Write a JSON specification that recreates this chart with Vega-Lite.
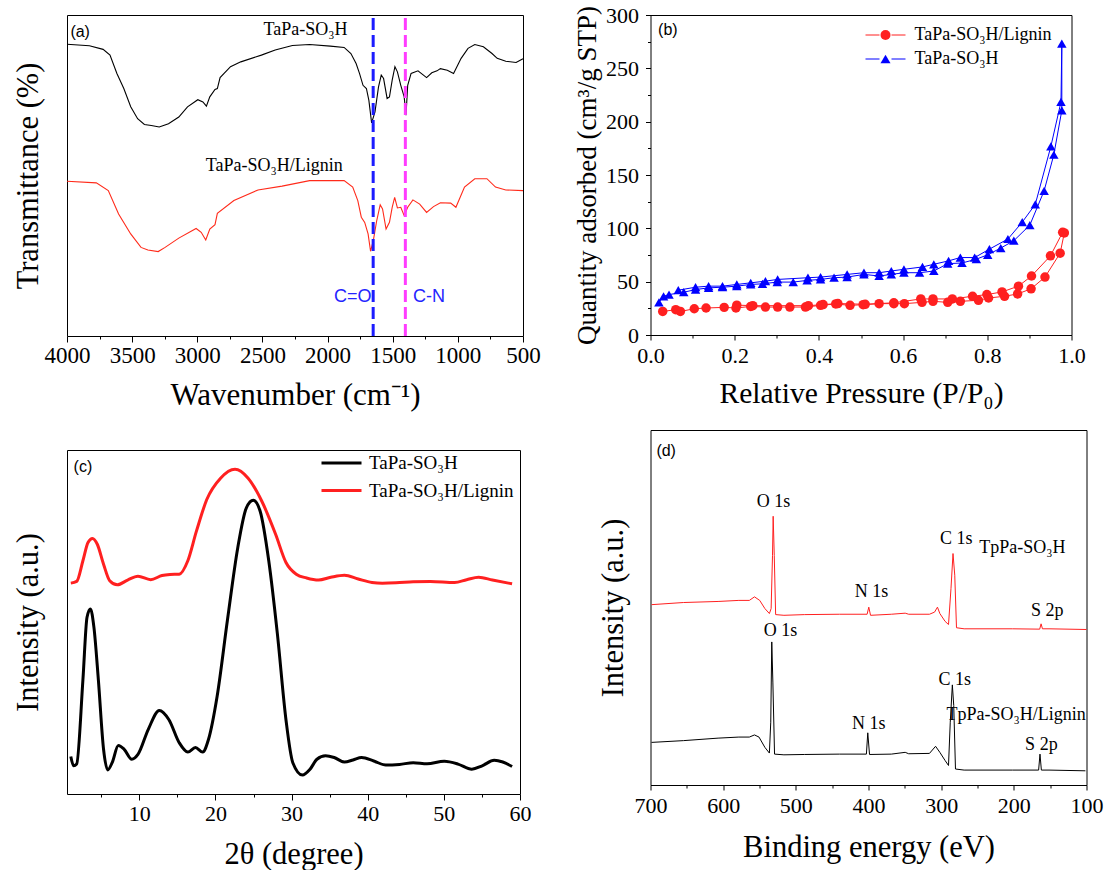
{
"$schema": "https://vega.github.io/schema/vega-lite/v6.json",
"background": "white",
"padding": {"left": 12, "top": 3, "right": 0, "bottom": 0},
"bounds": "flush",
"spacing": 583.5,
"resolve": {"scale": {"color": "independent", "shape": "independent", "stroke": "independent"}},
"datasets": {
"ir": [
{"s":"TaPa-SO₃H","x":4000,"y":90.9},{"s":"TaPa-SO₃H","x":3828,"y":90.4},{"s":"TaPa-SO₃H","x":3723,"y":89.3},{"s":"TaPa-SO₃H","x":3670,"y":87.5},{"s":"TaPa-SO₃H","x":3617,"y":81.8},{"s":"TaPa-SO₃H","x":3564,"y":77.1},{"s":"TaPa-SO₃H","x":3511,"y":71.4},{"s":"TaPa-SO₃H","x":3458,"y":67.7},{"s":"TaPa-SO₃H","x":3406,"y":65.9},{"s":"TaPa-SO₃H","x":3353,"y":65.6},{"s":"TaPa-SO₃H","x":3292,"y":65.1},{"s":"TaPa-SO₃H","x":3221,"y":66.1},{"s":"TaPa-SO₃H","x":3142,"y":68.2},{"s":"TaPa-SO₃H","x":3075,"y":71.4},{"s":"TaPa-SO₃H","x":2996,"y":73.6},{"s":"TaPa-SO₃H","x":2957,"y":72.9},{"s":"TaPa-SO₃H","x":2930,"y":71.6},{"s":"TaPa-SO₃H","x":2904,"y":74.5},{"s":"TaPa-SO₃H","x":2864,"y":76.8},{"s":"TaPa-SO₃H","x":2846,"y":77.1},{"s":"TaPa-SO₃H","x":2825,"y":80.5},{"s":"TaPa-SO₃H","x":2745,"y":83.9},{"s":"TaPa-SO₃H","x":2666,"y":85.4},{"s":"TaPa-SO₃H","x":2508,"y":87.5},{"s":"TaPa-SO₃H","x":2402,"y":89.1},{"s":"TaPa-SO₃H","x":2270,"y":90.5},{"s":"TaPa-SO₃H","x":2138,"y":90.8},{"s":"TaPa-SO₃H","x":1979,"y":90.3},{"s":"TaPa-SO₃H","x":1873,"y":89.9},{"s":"TaPa-SO₃H","x":1821,"y":88.0},{"s":"TaPa-SO₃H","x":1781,"y":84.9},{"s":"TaPa-SO₃H","x":1755,"y":81.8},{"s":"TaPa-SO₃H","x":1728,"y":78.1},{"s":"TaPa-SO₃H","x":1702,"y":77.1},{"s":"TaPa-SO₃H","x":1683,"y":73.4},{"s":"TaPa-SO₃H","x":1662,"y":66.4},{"s":"TaPa-SO₃H","x":1636,"y":69.8},{"s":"TaPa-SO₃H","x":1609,"y":77.6},{"s":"TaPa-SO₃H","x":1588,"y":81.3},{"s":"TaPa-SO₃H","x":1570,"y":80.2},{"s":"TaPa-SO₃H","x":1543,"y":74.0},{"s":"TaPa-SO₃H","x":1525,"y":74.5},{"s":"TaPa-SO₃H","x":1504,"y":79.7},{"s":"TaPa-SO₃H","x":1483,"y":83.9},{"s":"TaPa-SO₃H","x":1464,"y":82.3},{"s":"TaPa-SO₃H","x":1438,"y":78.1},{"s":"TaPa-SO₃H","x":1412,"y":74.5},{"s":"TaPa-SO₃H","x":1398,"y":68.8},{"s":"TaPa-SO₃H","x":1385,"y":78.1},{"s":"TaPa-SO₃H","x":1359,"y":81.8},{"s":"TaPa-SO₃H","x":1306,"y":82.6},{"s":"TaPa-SO₃H","x":1240,"y":80.5},{"s":"TaPa-SO₃H","x":1200,"y":82.0},{"s":"TaPa-SO₃H","x":1160,"y":82.6},{"s":"TaPa-SO₃H","x":1134,"y":83.3},{"s":"TaPa-SO₃H","x":1081,"y":82.8},{"s":"TaPa-SO₃H","x":1033,"y":81.8},{"s":"TaPa-SO₃H","x":975,"y":86.5},{"s":"TaPa-SO₃H","x":922,"y":89.6},{"s":"TaPa-SO₃H","x":870,"y":90.8},{"s":"TaPa-SO₃H","x":804,"y":90.1},{"s":"TaPa-SO₃H","x":738,"y":88.0},{"s":"TaPa-SO₃H","x":698,"y":86.5},{"s":"TaPa-SO₃H","x":632,"y":85.6},{"s":"TaPa-SO₃H","x":553,"y":85.2},{"s":"TaPa-SO₃H","x":500,"y":86.4},
{"s":"TaPa-SO₃H/Lignin","x":4000,"y":48.2},{"s":"TaPa-SO₃H/Lignin","x":3775,"y":47.7},{"s":"TaPa-SO₃H/Lignin","x":3683,"y":45.3},{"s":"TaPa-SO₃H/Lignin","x":3604,"y":38.0},{"s":"TaPa-SO₃H/Lignin","x":3511,"y":31.8},{"s":"TaPa-SO₃H/Lignin","x":3432,"y":27.6},{"s":"TaPa-SO₃H/Lignin","x":3379,"y":26.8},{"s":"TaPa-SO₃H/Lignin","x":3300,"y":26.3},{"s":"TaPa-SO₃H/Lignin","x":3247,"y":27.6},{"s":"TaPa-SO₃H/Lignin","x":3142,"y":30.5},{"s":"TaPa-SO₃H/Lignin","x":3009,"y":33.5},{"s":"TaPa-SO₃H/Lignin","x":2970,"y":32.3},{"s":"TaPa-SO₃H/Lignin","x":2935,"y":29.9},{"s":"TaPa-SO₃H/Lignin","x":2904,"y":33.3},{"s":"TaPa-SO₃H/Lignin","x":2864,"y":34.7},{"s":"TaPa-SO₃H/Lignin","x":2846,"y":38.2},{"s":"TaPa-SO₃H/Lignin","x":2719,"y":42.2},{"s":"TaPa-SO₃H/Lignin","x":2534,"y":45.5},{"s":"TaPa-SO₃H/Lignin","x":2349,"y":46.7},{"s":"TaPa-SO₃H/Lignin","x":2138,"y":48.4},{"s":"TaPa-SO₃H/Lignin","x":1873,"y":48.4},{"s":"TaPa-SO₃H/Lignin","x":1807,"y":46.4},{"s":"TaPa-SO₃H/Lignin","x":1768,"y":42.2},{"s":"TaPa-SO₃H/Lignin","x":1741,"y":37.0},{"s":"TaPa-SO₃H/Lignin","x":1715,"y":35.4},{"s":"TaPa-SO₃H/Lignin","x":1689,"y":31.8},{"s":"TaPa-SO₃H/Lignin","x":1670,"y":26.4},{"s":"TaPa-SO₃H/Lignin","x":1649,"y":29.7},{"s":"TaPa-SO₃H/Lignin","x":1623,"y":35.9},{"s":"TaPa-SO₃H/Lignin","x":1596,"y":40.9},{"s":"TaPa-SO₃H/Lignin","x":1578,"y":39.6},{"s":"TaPa-SO₃H/Lignin","x":1551,"y":33.3},{"s":"TaPa-SO₃H/Lignin","x":1525,"y":35.4},{"s":"TaPa-SO₃H/Lignin","x":1504,"y":40.1},{"s":"TaPa-SO₃H/Lignin","x":1485,"y":43.2},{"s":"TaPa-SO₃H/Lignin","x":1464,"y":39.9},{"s":"TaPa-SO₃H/Lignin","x":1438,"y":40.1},{"s":"TaPa-SO₃H/Lignin","x":1412,"y":37.5},{"s":"TaPa-SO₃H/Lignin","x":1385,"y":40.1},{"s":"TaPa-SO₃H/Lignin","x":1345,"y":42.4},{"s":"TaPa-SO₃H/Lignin","x":1293,"y":41.1},{"s":"TaPa-SO₃H/Lignin","x":1240,"y":38.5},{"s":"TaPa-SO₃H/Lignin","x":1187,"y":40.3},{"s":"TaPa-SO₃H/Lignin","x":1134,"y":41.5},{"s":"TaPa-SO₃H/Lignin","x":1055,"y":41.4},{"s":"TaPa-SO₃H/Lignin","x":1015,"y":40.1},{"s":"TaPa-SO₃H/Lignin","x":949,"y":46.4},{"s":"TaPa-SO₃H/Lignin","x":870,"y":49.0},{"s":"TaPa-SO₃H/Lignin","x":777,"y":49.0},{"s":"TaPa-SO₃H/Lignin","x":711,"y":46.4},{"s":"TaPa-SO₃H/Lignin","x":632,"y":45.5},{"s":"TaPa-SO₃H/Lignin","x":500,"y":45.3}
],
"bet": [
{"s":"TaPa-SO₃H/Lignin","i":1,"x":0.029,"y":22.1},{"s":"TaPa-SO₃H/Lignin","i":2,"x":0.060,"y":23.7},{"s":"TaPa-SO₃H/Lignin","i":3,"x":0.071,"y":22.1},{"s":"TaPa-SO₃H/Lignin","i":4,"x":0.104,"y":24.6},{"s":"TaPa-SO₃H/Lignin","i":5,"x":0.132,"y":25.3},{"s":"TaPa-SO₃H/Lignin","i":6,"x":0.175,"y":25.9},{"s":"TaPa-SO₃H/Lignin","i":7,"x":0.203,"y":25.3},{"s":"TaPa-SO₃H/Lignin","i":8,"x":0.238,"y":26.8},{"s":"TaPa-SO₃H/Lignin","i":9,"x":0.273,"y":26.2},{"s":"TaPa-SO₃H/Lignin","i":10,"x":0.302,"y":26.2},{"s":"TaPa-SO₃H/Lignin","i":11,"x":0.331,"y":26.2},{"s":"TaPa-SO₃H/Lignin","i":12,"x":0.368,"y":26.2},{"s":"TaPa-SO₃H/Lignin","i":13,"x":0.404,"y":27.8},{"s":"TaPa-SO₃H/Lignin","i":14,"x":0.440,"y":29.1},{"s":"TaPa-SO₃H/Lignin","i":15,"x":0.474,"y":27.8},{"s":"TaPa-SO₃H/Lignin","i":16,"x":0.505,"y":28.4},{"s":"TaPa-SO₃H/Lignin","i":17,"x":0.543,"y":29.4},{"s":"TaPa-SO₃H/Lignin","i":18,"x":0.578,"y":29.4},{"s":"TaPa-SO₃H/Lignin","i":19,"x":0.603,"y":29.4},{"s":"TaPa-SO₃H/Lignin","i":20,"x":0.645,"y":30.6},{"s":"TaPa-SO₃H/Lignin","i":21,"x":0.671,"y":31.6},{"s":"TaPa-SO₃H/Lignin","i":22,"x":0.706,"y":30.6},{"s":"TaPa-SO₃H/Lignin","i":23,"x":0.736,"y":31.6},{"s":"TaPa-SO₃H/Lignin","i":24,"x":0.779,"y":32.5},{"s":"TaPa-SO₃H/Lignin","i":25,"x":0.803,"y":34.7},{"s":"TaPa-SO₃H/Lignin","i":26,"x":0.841,"y":36.3},{"s":"TaPa-SO₃H/Lignin","i":27,"x":0.872,"y":38.5},{"s":"TaPa-SO₃H/Lignin","i":28,"x":0.904,"y":43.3},{"s":"TaPa-SO₃H/Lignin","i":29,"x":0.937,"y":54.3},{"s":"TaPa-SO₃H/Lignin","i":30,"x":0.973,"y":76.7},{"s":"TaPa-SO₃H/Lignin","i":31,"x":0.983,"y":95.7},{"s":"TaPa-SO₃H/Lignin","i":32,"x":0.979,"y":96.3},{"s":"TaPa-SO₃H/Lignin","i":33,"x":0.950,"y":74.2},{"s":"TaPa-SO₃H/Lignin","i":34,"x":0.905,"y":55.3},{"s":"TaPa-SO₃H/Lignin","i":35,"x":0.874,"y":45.8},{"s":"TaPa-SO₃H/Lignin","i":36,"x":0.835,"y":40.4},{"s":"TaPa-SO₃H/Lignin","i":37,"x":0.799,"y":37.9},{"s":"TaPa-SO₃H/Lignin","i":38,"x":0.765,"y":36.3},{"s":"TaPa-SO₃H/Lignin","i":39,"x":0.717,"y":33.8},{"s":"TaPa-SO₃H/Lignin","i":40,"x":0.671,"y":33.8},{"s":"TaPa-SO₃H/Lignin","i":41,"x":0.642,"y":33.8},{"s":"TaPa-SO₃H/Lignin","i":42,"x":0.578,"y":30.2},{"s":"TaPa-SO₃H/Lignin","i":43,"x":0.510,"y":28.8},{"s":"TaPa-SO₃H/Lignin","i":44,"x":0.445,"y":29.5},{"s":"TaPa-SO₃H/Lignin","i":45,"x":0.410,"y":28.5},{"s":"TaPa-SO₃H/Lignin","i":46,"x":0.375,"y":27.5},{"s":"TaPa-SO₃H/Lignin","i":47,"x":0.243,"y":27.5},{"s":"TaPa-SO₃H/Lignin","i":48,"x":0.205,"y":28.0},
{"s":"TaPa-SO₃H","i":1,"x":0.020,"y":30.6},{"s":"TaPa-SO₃H","i":2,"x":0.031,"y":36.3},{"s":"TaPa-SO₃H","i":3,"x":0.044,"y":37.9},{"s":"TaPa-SO₃H","i":4,"x":0.079,"y":40.1},{"s":"TaPa-SO₃H","i":5,"x":0.107,"y":42.6},{"s":"TaPa-SO₃H","i":6,"x":0.138,"y":44.2},{"s":"TaPa-SO₃H","i":7,"x":0.171,"y":44.8},{"s":"TaPa-SO₃H","i":8,"x":0.205,"y":45.8},{"s":"TaPa-SO₃H","i":9,"x":0.238,"y":47.4},{"s":"TaPa-SO₃H","i":10,"x":0.266,"y":48.0},{"s":"TaPa-SO₃H","i":11,"x":0.301,"y":49.6},{"s":"TaPa-SO₃H","i":12,"x":0.339,"y":49.6},{"s":"TaPa-SO₃H","i":13,"x":0.372,"y":51.2},{"s":"TaPa-SO₃H","i":14,"x":0.404,"y":52.1},{"s":"TaPa-SO₃H","i":15,"x":0.436,"y":53.7},{"s":"TaPa-SO₃H","i":16,"x":0.467,"y":54.3},{"s":"TaPa-SO₃H","i":17,"x":0.507,"y":56.8},{"s":"TaPa-SO₃H","i":18,"x":0.543,"y":55.3},{"s":"TaPa-SO₃H","i":19,"x":0.572,"y":56.8},{"s":"TaPa-SO₃H","i":20,"x":0.602,"y":58.4},{"s":"TaPa-SO₃H","i":21,"x":0.639,"y":58.4},{"s":"TaPa-SO₃H","i":22,"x":0.673,"y":60.0},{"s":"TaPa-SO₃H","i":23,"x":0.706,"y":66.9},{"s":"TaPa-SO₃H","i":24,"x":0.740,"y":67.5},{"s":"TaPa-SO₃H","i":25,"x":0.774,"y":71.1},{"s":"TaPa-SO₃H","i":26,"x":0.801,"y":75.2},{"s":"TaPa-SO₃H","i":27,"x":0.832,"y":81.5},{"s":"TaPa-SO₃H","i":28,"x":0.863,"y":88.4},{"s":"TaPa-SO₃H","i":29,"x":0.901,"y":103.0},{"s":"TaPa-SO₃H","i":30,"x":0.935,"y":135.2},{"s":"TaPa-SO₃H","i":31,"x":0.958,"y":169.0},{"s":"TaPa-SO₃H","i":32,"x":0.977,"y":210.6},{"s":"TaPa-SO₃H","i":33,"x":0.977,"y":273.2},{"s":"TaPa-SO₃H","i":34,"x":0.975,"y":218.5},{"s":"TaPa-SO₃H","i":35,"x":0.951,"y":176.8},{"s":"TaPa-SO₃H","i":36,"x":0.914,"y":122.5},{"s":"TaPa-SO₃H","i":37,"x":0.883,"y":105.8},{"s":"TaPa-SO₃H","i":38,"x":0.849,"y":90.0},{"s":"TaPa-SO₃H","i":39,"x":0.805,"y":80.5},{"s":"TaPa-SO₃H","i":40,"x":0.770,"y":72.6},{"s":"TaPa-SO₃H","i":41,"x":0.736,"y":72.6},{"s":"TaPa-SO₃H","i":42,"x":0.708,"y":69.5},{"s":"TaPa-SO₃H","i":43,"x":0.673,"y":66.3},{"s":"TaPa-SO₃H","i":44,"x":0.646,"y":63.8},{"s":"TaPa-SO₃H","i":45,"x":0.602,"y":61.6},{"s":"TaPa-SO₃H","i":46,"x":0.572,"y":60.0},{"s":"TaPa-SO₃H","i":47,"x":0.543,"y":58.4},{"s":"TaPa-SO₃H","i":48,"x":0.507,"y":58.4},{"s":"TaPa-SO₃H","i":49,"x":0.467,"y":56.8},{"s":"TaPa-SO₃H","i":50,"x":0.404,"y":54.3},{"s":"TaPa-SO₃H","i":51,"x":0.374,"y":53.7},{"s":"TaPa-SO₃H","i":52,"x":0.302,"y":52.1},{"s":"TaPa-SO₃H","i":53,"x":0.273,"y":50.5},{"s":"TaPa-SO₃H","i":54,"x":0.238,"y":48.9},{"s":"TaPa-SO₃H","i":55,"x":0.205,"y":47.4},{"s":"TaPa-SO₃H","i":56,"x":0.171,"y":45.8},{"s":"TaPa-SO₃H","i":57,"x":0.138,"y":45.8},{"s":"TaPa-SO₃H","i":58,"x":0.107,"y":44.8},{"s":"TaPa-SO₃H","i":59,"x":0.066,"y":42.0}
],
"xrd": [
{"s":"TaPa-SO₃H","x":1.0,"y":10.9},{"s":"TaPa-SO₃H","x":1.37,"y":8.2},{"s":"TaPa-SO₃H","x":1.77,"y":8.7},{"s":"TaPa-SO₃H","x":2.59,"y":33.2},{"s":"TaPa-SO₃H","x":3.13,"y":51.4},{"s":"TaPa-SO₃H","x":3.58,"y":53.8},{"s":"TaPa-SO₃H","x":4.03,"y":48.6},{"s":"TaPa-SO₃H","x":4.62,"y":33.2},{"s":"TaPa-SO₃H","x":5.30,"y":13.0},{"s":"TaPa-SO₃H","x":5.84,"y":7.0},{"s":"TaPa-SO₃H","x":6.43,"y":9.1},{"s":"TaPa-SO₃H","x":7.24,"y":14.1},{"s":"TaPa-SO₃H","x":8.01,"y":13.0},{"s":"TaPa-SO₃H","x":9.01,"y":10.1},{"s":"TaPa-SO₃H","x":9.82,"y":11.5},{"s":"TaPa-SO₃H","x":11.18,"y":18.8},{"s":"TaPa-SO₃H","x":12.62,"y":24.3},{"s":"TaPa-SO₃H","x":13.89,"y":21.6},{"s":"TaPa-SO₃H","x":15.24,"y":14.9},{"s":"TaPa-SO₃H","x":16.37,"y":12.2},{"s":"TaPa-SO₃H","x":17.37,"y":13.5},{"s":"TaPa-SO₃H","x":18.32,"y":12.2},{"s":"TaPa-SO₃H","x":19.09,"y":15.9},{"s":"TaPa-SO₃H","x":20.22,"y":28.4},{"s":"TaPa-SO₃H","x":21.57,"y":50.5},{"s":"TaPa-SO₃H","x":22.93,"y":71.6},{"s":"TaPa-SO₃H","x":24.06,"y":83.2},{"s":"TaPa-SO₃H","x":24.96,"y":85.4},{"s":"TaPa-SO₃H","x":25.87,"y":82.2},{"s":"TaPa-SO₃H","x":27.0,"y":67.8},{"s":"TaPa-SO₃H","x":28.13,"y":46.6},{"s":"TaPa-SO₃H","x":29.26,"y":21.6},{"s":"TaPa-SO₃H","x":30.16,"y":9.1},{"s":"TaPa-SO₃H","x":31.43,"y":5.5},{"s":"TaPa-SO₃H","x":32.42,"y":7.2},{"s":"TaPa-SO₃H","x":33.33,"y":10.1},{"s":"TaPa-SO₃H","x":34.46,"y":11.1},{"s":"TaPa-SO₃H","x":35.59,"y":10.6},{"s":"TaPa-SO₃H","x":36.94,"y":9.3},{"s":"TaPa-SO₃H","x":38.07,"y":9.9},{"s":"TaPa-SO₃H","x":39.2,"y":10.6},{"s":"TaPa-SO₃H","x":40.79,"y":9.6},{"s":"TaPa-SO₃H","x":42.37,"y":8.4},{"s":"TaPa-SO₃H","x":44.18,"y":8.6},{"s":"TaPa-SO₃H","x":45.98,"y":9.1},{"s":"TaPa-SO₃H","x":47.79,"y":8.8},{"s":"TaPa-SO₃H","x":50.05,"y":9.5},{"s":"TaPa-SO₃H","x":51.86,"y":8.7},{"s":"TaPa-SO₃H","x":53.67,"y":7.2},{"s":"TaPa-SO₃H","x":55.03,"y":8.2},{"s":"TaPa-SO₃H","x":56.61,"y":9.8},{"s":"TaPa-SO₃H","x":57.74,"y":9.3},{"s":"TaPa-SO₃H","x":58.96,"y":8.0},
{"s":"TaPa-SO₃H/Lignin","x":1.0,"y":61.3},{"s":"TaPa-SO₃H/Lignin","x":1.77,"y":61.8},{"s":"TaPa-SO₃H/Lignin","x":2.59,"y":67.8},{"s":"TaPa-SO₃H/Lignin","x":3.26,"y":73.1},{"s":"TaPa-SO₃H/Lignin","x":3.85,"y":74.3},{"s":"TaPa-SO₃H/Lignin","x":4.48,"y":72.6},{"s":"TaPa-SO₃H/Lignin","x":5.30,"y":66.8},{"s":"TaPa-SO₃H/Lignin","x":6.11,"y":62.0},{"s":"TaPa-SO₃H/Lignin","x":7.11,"y":60.8},{"s":"TaPa-SO₃H/Lignin","x":8.46,"y":62.2},{"s":"TaPa-SO₃H/Lignin","x":9.82,"y":63.3},{"s":"TaPa-SO₃H/Lignin","x":11.49,"y":62.3},{"s":"TaPa-SO₃H/Lignin","x":12.98,"y":63.5},{"s":"TaPa-SO₃H/Lignin","x":14.02,"y":63.8},{"s":"TaPa-SO₃H/Lignin","x":15.24,"y":63.9},{"s":"TaPa-SO₃H/Lignin","x":16.37,"y":67.8},{"s":"TaPa-SO₃H/Lignin","x":17.5,"y":76.4},{"s":"TaPa-SO₃H/Lignin","x":18.86,"y":85.6},{"s":"TaPa-SO₃H/Lignin","x":20.67,"y":91.8},{"s":"TaPa-SO₃H/Lignin","x":22.57,"y":94.4},{"s":"TaPa-SO₃H/Lignin","x":24.29,"y":91.8},{"s":"TaPa-SO₃H/Lignin","x":26.09,"y":85.1},{"s":"TaPa-SO₃H/Lignin","x":27.9,"y":75.5},{"s":"TaPa-SO₃H/Lignin","x":29.26,"y":67.3},{"s":"TaPa-SO₃H/Lignin","x":30.61,"y":63.9},{"s":"TaPa-SO₃H/Lignin","x":31.97,"y":62.8},{"s":"TaPa-SO₃H/Lignin","x":33.55,"y":62.2},{"s":"TaPa-SO₃H/Lignin","x":35.14,"y":63.0},{"s":"TaPa-SO₃H/Lignin","x":36.94,"y":63.6},{"s":"TaPa-SO₃H/Lignin","x":38.75,"y":62.5},{"s":"TaPa-SO₃H/Lignin","x":40.56,"y":61.5},{"s":"TaPa-SO₃H/Lignin","x":41.92,"y":61.3},{"s":"TaPa-SO₃H/Lignin","x":43.72,"y":61.4},{"s":"TaPa-SO₃H/Lignin","x":45.98,"y":61.7},{"s":"TaPa-SO₃H/Lignin","x":48.24,"y":61.8},{"s":"TaPa-SO₃H/Lignin","x":51.41,"y":61.5},{"s":"TaPa-SO₃H/Lignin","x":52.99,"y":62.3},{"s":"TaPa-SO₃H/Lignin","x":54.57,"y":63.0},{"s":"TaPa-SO₃H/Lignin","x":56.38,"y":62.2},{"s":"TaPa-SO₃H/Lignin","x":58.96,"y":61.1}
],
"xps": [
{"s":"TpPa-SO₃H","x":698.6,"y":50.8},{"s":"TpPa-SO₃H","x":654.7,"y":51.4},{"s":"TpPa-SO₃H","x":607,"y":51.7},{"s":"TpPa-SO₃H","x":578.4,"y":52.0},{"s":"TpPa-SO₃H","x":564,"y":52.0},{"s":"TpPa-SO₃H","x":556.9,"y":53.0},{"s":"TpPa-SO₃H","x":549.7,"y":52.0},{"s":"TpPa-SO₃H","x":542.6,"y":49.7},{"s":"TpPa-SO₃H","x":536.4,"y":48.3},{"s":"TpPa-SO₃H","x":534,"y":49.7},{"s":"TpPa-SO₃H","x":532.1,"y":64.7},{"s":"TpPa-SO₃H","x":531.2,"y":75.7},{"s":"TpPa-SO₃H","x":529.7,"y":64.7},{"s":"TpPa-SO₃H","x":527.8,"y":48.0},{"s":"TpPa-SO₃H","x":516.4,"y":47.8},{"s":"TpPa-SO₃H","x":487.8,"y":48.0},{"s":"TpPa-SO₃H","x":440.1,"y":48.1},{"s":"TpPa-SO₃H","x":401.9,"y":48.1},{"s":"TpPa-SO₃H","x":399.6,"y":50.1},{"s":"TpPa-SO₃H","x":397.2,"y":47.8},{"s":"TpPa-SO₃H","x":368.6,"y":48.1},{"s":"TpPa-SO₃H","x":349.5,"y":48.4},{"s":"TpPa-SO₃H","x":344.7,"y":48.1},{"s":"TpPa-SO₃H","x":316.1,"y":48.1},{"s":"TpPa-SO₃H","x":309.1,"y":48.7},{"s":"TpPa-SO₃H","x":305.1,"y":50.1},{"s":"TpPa-SO₃H","x":301.8,"y":48.3},{"s":"TpPa-SO₃H","x":294.6,"y":46.1},{"s":"TpPa-SO₃H","x":289.9,"y":45.2},{"s":"TpPa-SO₃H","x":286.5,"y":55.3},{"s":"TpPa-SO₃H","x":283.7,"y":65.2},{"s":"TpPa-SO₃H","x":281.3,"y":59.1},{"s":"TpPa-SO₃H","x":278.9,"y":44.3},{"s":"TpPa-SO₃H","x":268.4,"y":44.0},{"s":"TpPa-SO₃H","x":201.6,"y":44.0},{"s":"TpPa-SO₃H","x":164.4,"y":43.9},{"s":"TpPa-SO₃H","x":162.5,"y":45.4},{"s":"TpPa-SO₃H","x":160.6,"y":44.0},{"s":"TpPa-SO₃H","x":151.6,"y":44.0},{"s":"TpPa-SO₃H","x":100,"y":43.8},
{"s":"TpPa-SO₃H/Lignin","x":698.6,"y":12.0},{"s":"TpPa-SO₃H/Lignin","x":654.7,"y":12.5},{"s":"TpPa-SO₃H/Lignin","x":607,"y":13.2},{"s":"TpPa-SO₃H/Lignin","x":578.4,"y":13.5},{"s":"TpPa-SO₃H/Lignin","x":564,"y":13.5},{"s":"TpPa-SO₃H/Lignin","x":556.9,"y":14.1},{"s":"TpPa-SO₃H/Lignin","x":550.7,"y":13.5},{"s":"TpPa-SO₃H/Lignin","x":542.6,"y":10.6},{"s":"TpPa-SO₃H/Lignin","x":536.4,"y":9.0},{"s":"TpPa-SO₃H/Lignin","x":534.5,"y":17.7},{"s":"TpPa-SO₃H/Lignin","x":533.1,"y":40.3},{"s":"TpPa-SO₃H/Lignin","x":531.6,"y":29.0},{"s":"TpPa-SO₃H/Lignin","x":529.3,"y":8.7},{"s":"TpPa-SO₃H/Lignin","x":516.4,"y":8.5},{"s":"TpPa-SO₃H/Lignin","x":487.8,"y":8.6},{"s":"TpPa-SO₃H/Lignin","x":440.1,"y":8.7},{"s":"TpPa-SO₃H/Lignin","x":402.9,"y":8.7},{"s":"TpPa-SO₃H/Lignin","x":401,"y":14.7},{"s":"TpPa-SO₃H/Lignin","x":398.6,"y":8.6},{"s":"TpPa-SO₃H/Lignin","x":368.6,"y":8.7},{"s":"TpPa-SO₃H/Lignin","x":349.5,"y":9.2},{"s":"TpPa-SO₃H/Lignin","x":344.7,"y":8.8},{"s":"TpPa-SO₃H/Lignin","x":316.1,"y":8.9},{"s":"TpPa-SO₃H/Lignin","x":307.7,"y":10.9},{"s":"TpPa-SO₃H/Lignin","x":301.8,"y":9.2},{"s":"TpPa-SO₃H/Lignin","x":294.6,"y":6.9},{"s":"TpPa-SO₃H/Lignin","x":289.9,"y":5.5},{"s":"TpPa-SO₃H/Lignin","x":287.5,"y":17.7},{"s":"TpPa-SO₃H/Lignin","x":284.6,"y":28.2},{"s":"TpPa-SO₃H/Lignin","x":282.7,"y":22.4},{"s":"TpPa-SO₃H/Lignin","x":280.3,"y":4.5},{"s":"TpPa-SO₃H/Lignin","x":268.4,"y":4.2},{"s":"TpPa-SO₃H/Lignin","x":201.6,"y":4.2},{"s":"TpPa-SO₃H/Lignin","x":165.9,"y":4.2},{"s":"TpPa-SO₃H/Lignin","x":164,"y":8.7},{"s":"TpPa-SO₃H/Lignin","x":162.1,"y":4.2},{"s":"TpPa-SO₃H/Lignin","x":151.6,"y":4.2},{"s":"TpPa-SO₃H/Lignin","x":101.5,"y":4.0}
]
},
"hconcat": [
{
"bounds": "flush",
"spacing": 114,
"resolve": {"scale": {"color": "independent", "shape": "independent", "stroke": "independent"}},
"vconcat": [
{
"width": 456, "height": 321,
"encoding": {
"x": {"field": "x", "type": "quantitative", "scale": {"domain": [500, 4000], "reverse": true, "nice": false, "zero": false},
 "axis": {"title": "Wavenumber (cm⁻¹)", "values": [4000,3750,3500,3250,3000,2750,2500,2250,2000,1750,1500,1250,1000,750,500], "format": "d", "labelExpr": "datum.value % 500 === 0 ? datum.label : ''", "tickSize": {"condition": {"test": "datum.value % 500 === 0", "value": 6}, "value": 3}, "labelFontSize": 23, "labelPadding": 2, "titleFontSize": 31, "titlePadding": 13}},
"y": {"field": "y", "type": "quantitative", "scale": {"domain": [0, 100], "nice": false},
 "axis": {"title": "Transmittance (%)", "labels": false, "ticks": false, "domain": false, "titleFontSize": 30.5, "titlePadding": 24}}
},
"layer": [
{"data": {"name": "ir"}, "mark": {"type": "line", "strokeWidth": 1.1},
 "encoding": {"color": {"field": "s", "type": "nominal", "scale": {"domain": ["TaPa-SO₃H", "TaPa-SO₃H/Lignin"], "range": ["#000000", "#ff2a1a"]}, "legend": null}}},
{"data": {"values": [{"x": 1650, "y": 0, "y2": 100}]}, "mark": {"type": "rule", "color": "#1c1cff", "strokeWidth": 3, "strokeDash": [12, 5]}, "encoding": {"y2": {"field": "y2"}}},
{"data": {"values": [{"x": 1403, "y": 0, "y2": 100}]}, "mark": {"type": "rule", "color": "#ff3cff", "strokeWidth": 3, "strokeDash": [12, 5]}, "encoding": {"y2": {"field": "y2"}}},
{"data": {"values": [{"t": "TaPa-SO₃H", "x": 2169, "y": 95.3}, {"t": "TaPa-SO₃H/Lignin", "x": 2410, "y": 52.9}]}, "mark": {"type": "text", "font": "Liberation Serif", "fontSize": 18, "align": "center", "baseline": "middle", "color": "black"}, "encoding": {"text": {"field": "t"}}},
{"data": {"values": [{"t": "(a)", "x": 3974, "y": 94.8}]}, "mark": {"type": "text", "font": "Liberation Sans", "fontSize": 16, "align": "left", "baseline": "middle", "color": "black"}, "encoding": {"text": {"field": "t"}}},
{"data": {"values": [{"t": "C=O", "x": 1662, "y": 12.2}]}, "mark": {"type": "text", "font": "Liberation Sans", "fontSize": 18, "align": "right", "baseline": "middle", "color": "#2424ff"}, "encoding": {"text": {"field": "t"}}},
{"data": {"values": [{"t": "C-N", "x": 1345, "y": 12.2}]}, "mark": {"type": "text", "font": "Liberation Sans", "fontSize": 18, "align": "left", "baseline": "middle", "color": "#2424ff"}, "encoding": {"text": {"field": "t"}}}
]
},
{
"width": 453, "height": 344,
"encoding": {
"x": {"field": "x", "type": "quantitative", "scale": {"domain": [0.5, 60], "nice": false, "zero": false},
 "axis": {"title": "2θ (degree)", "values": [5,10,15,20,25,30,35,40,45,50,55,60], "format": "d", "labelExpr": "datum.value % 10 === 0 ? datum.label : ''", "tickSize": {"condition": {"test": "datum.value % 10 === 0", "value": 6}, "value": 3}, "labelFontSize": 22, "labelPadding": 3, "titleFontSize": 30.5, "titlePadding": 15}},
"y": {"field": "y", "type": "quantitative", "scale": {"domain": [0, 100], "nice": false},
 "axis": {"title": "Intensity (a.u.)", "labels": false, "ticks": false, "domain": false, "titleFontSize": 30.5, "titlePadding": 24}}
},
"layer": [
{"data": {"name": "xrd"}, "mark": {"type": "line", "strokeWidth": 3, "interpolate": "monotone"},
 "encoding": {"color": {"field": "s", "type": "nominal", "scale": {"domain": ["TaPa-SO₃H", "TaPa-SO₃H/Lignin"], "range": ["#000000", "#ff2020"]},
  "legend": {"title": null, "orient": "none", "legendX": 265, "legendY": 3.5, "symbolType": "M-4,0H4", "symbolSize": 100, "symbolStrokeWidth": 3, "labelFontSize": 19, "labelColor": "black", "labelOffset": 18, "rowPadding": 7.5, "padding": 0}}}},
{"data": {"values": [{"t": "(c)", "x": 1.37, "y": 95.2}]}, "mark": {"type": "text", "font": "Liberation Sans", "fontSize": 16, "align": "left", "baseline": "middle", "color": "black"}, "encoding": {"text": {"field": "t"}}}
]
}
]
},
{
"bounds": "flush",
"spacing": 95,
"resolve": {"scale": {"color": "independent", "shape": "independent", "stroke": "independent"}},
"vconcat": [
{
"width": 421, "height": 320,
"encoding": {
"x": {"field": "x", "type": "quantitative", "scale": {"domain": [0, 1], "nice": false, "zero": false},
 "axis": {"title": "Relative Pressure (P/P₀)", "values": [0,0.1,0.2,0.3,0.4,0.5,0.6,0.7,0.8,0.9,1.0], "format": ".1f", "labelExpr": "round(datum.value*10) % 2 === 0 ? datum.label : ''", "tickSize": {"condition": {"test": "round(datum.value*10) % 2 === 0", "value": 5}, "value": 3}, "labelFontSize": 22, "labelPadding": 5, "titleFontSize": 29.5, "titlePadding": 13}},
"y": {"field": "y", "type": "quantitative", "scale": {"domain": [0, 300], "nice": false},
 "axis": {"title": "Quantity adsorbed (cm³/g STP)", "values": [0,25,50,75,100,125,150,175,200,225,250,275,300], "format": "d", "labelExpr": "datum.value % 50 === 0 ? datum.label : ''", "tickSize": {"condition": {"test": "datum.value % 50 === 0", "value": 5}, "value": 3}, "labelFontSize": 22, "labelPadding": 7, "titleFontSize": 27, "titlePadding": 4}}
},
"layer": [
{"data": {"name": "bet"}, "mark": {"type": "line", "strokeWidth": 1},
 "encoding": {"order": {"field": "i", "type": "quantitative"}, "stroke": {"field": "s", "type": "nominal", "sort": "descending", "scale": {"range": ["#ff2020", "#0000ff"]},
  "legend": {"title": null, "orient": "none", "legendX": 226, "legendY": 11, "symbolType": "M-4,0H-1.2M1.2,0H4", "symbolSize": 100, "symbolStrokeWidth": 1, "labelFontSize": 18, "labelOpacity": 0, "labelOffset": 19.5, "rowPadding": 6, "padding": 0}}}},
{"data": {"name": "bet"}, "mark": {"type": "point", "filled": true, "size": 90, "opacity": 1},
 "encoding": {"color": {"field": "s", "type": "nominal", "scale": {"domain": ["TaPa-SO₃H/Lignin", "TaPa-SO₃H"], "range": ["#ff2020", "#0000ff"]},
  "legend": {"title": null, "orient": "none", "legendX": 226, "legendY": 11, "labelFontSize": 18, "labelColor": "black", "labelOffset": 20, "rowPadding": 6, "padding": 0}},
  "shape": {"field": "s", "type": "nominal", "scale": {"domain": ["TaPa-SO₃H/Lignin", "TaPa-SO₃H"], "range": ["circle", "triangle-up"]},
  "legend": {"title": null, "orient": "none", "legendX": 226, "legendY": 11, "labelFontSize": 18, "labelColor": "black", "labelOffset": 20, "rowPadding": 6, "padding": 0}}}},
{"data": {"values": [{"t": "(b)", "x": 0.018, "y": 285.8}]}, "mark": {"type": "text", "font": "Liberation Sans", "fontSize": 16, "align": "left", "baseline": "middle", "color": "black"}, "encoding": {"text": {"field": "t"}}}
]
},
{
"width": 436, "height": 355,
"encoding": {
"x": {"field": "x", "type": "quantitative", "scale": {"domain": [100, 700], "reverse": true, "nice": false, "zero": false},
 "axis": {"title": "Binding energy (eV)", "values": [700,650,600,550,500,450,400,350,300,250,200,150,100], "format": "d", "labelExpr": "datum.value % 100 === 0 ? datum.label : ''", "tickSize": {"condition": {"test": "datum.value % 100 === 0", "value": 5}, "value": 3}, "labelFontSize": 22, "labelPadding": 5, "titleFontSize": 30.5, "titlePadding": 16}},
"y": {"field": "y", "type": "quantitative", "scale": {"domain": [0, 100], "nice": false},
 "axis": {"title": "Intensity (a.u.)", "labels": false, "ticks": false, "domain": false, "titleFontSize": 30.5, "titlePadding": 22}}
},
"layer": [
{"data": {"name": "xps"}, "mark": {"type": "line", "strokeWidth": 1},
 "encoding": {"color": {"field": "s", "type": "nominal", "scale": {"domain": ["TpPa-SO₃H", "TpPa-SO₃H/Lignin"], "range": ["#ff2020", "#000000"]}, "legend": null}}},
{"data": {"values": [{"t": "O 1s", "x": 530.7, "y": 79.8}, {"t": "C 1s", "x": 279.4, "y": 69.2}, {"t": "TpPa-SO₃H", "x": 188.3, "y": 66.8}, {"t": "N 1s", "x": 395.7, "y": 54.4}, {"t": "S 2p", "x": 154, "y": 48.9}, {"t": "O 1s", "x": 521.2, "y": 43.3}, {"t": "C 1s", "x": 281.3, "y": 29.7}, {"t": "N 1s", "x": 399.5, "y": 17.2}, {"t": "TpPa-SO₃H/Lignin", "x": 196.9, "y": 19.8}, {"t": "S 2p", "x": 162.1, "y": 11.3}]},
 "mark": {"type": "text", "font": "Liberation Serif", "fontSize": 18, "align": "center", "baseline": "middle", "color": "black"}, "encoding": {"text": {"field": "t"}}},
{"data": {"values": [{"t": "(d)", "x": 691.9, "y": 94.1}]}, "mark": {"type": "text", "font": "Liberation Sans", "fontSize": 16, "align": "left", "baseline": "middle", "color": "black"}, "encoding": {"text": {"field": "t"}}}
]
}
]
}
],
"config": {
"font": "Liberation Serif",
"view": {"stroke": "black", "strokeWidth": 1},
"axis": {"labelFont": "Liberation Serif", "titleFont": "Liberation Serif", "titleFontWeight": "normal", "labelColor": "black", "titleColor": "black", "tickColor": "black", "domain": false, "grid": false, "tickWidth": 1, "labelFlush": false, "labelOverlap": false},
"legend": {"labelFont": "Liberation Serif"},
"text": {"font": "Liberation Serif"}
}
}
